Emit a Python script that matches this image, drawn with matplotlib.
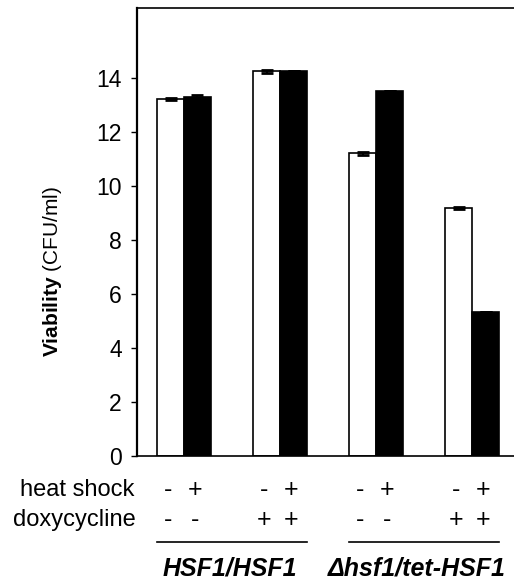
import matplotlib
matplotlib.use("Agg")
import matplotlib.pyplot as plt
import matplotlib.transforms as mtransforms
import numpy as np

plt.rcParams['font.family'] = ['Liberation Sans', 'DejaVu Sans']
plt.rcParams['mathtext.fontset'] = 'custom'
plt.rcParams['mathtext.rm'] = 'Liberation Sans'
plt.rcParams['mathtext.bf'] = 'Liberation Sans:bold'

# Data
conditions = ["HSF1/HSF1 -dox", "HSF1/HSF1 +dox", "tet -dox", "tet +dox"]
no_heat = [13.22, 14.26, 11.22, 9.19]
no_heat_err = [0.04, 0.05, 0.05, 0.04]
heat = [13.32, 14.26, 13.53, 5.33]
heat_err = [0.04, 0.0, 0.0, 0.0]
heat_signs = [["-", "+"], ["-", "+"], ["-", "+"], ["-", "+"]]
dox_signs = [["-", "-"], ["+", "+"], ["-", "-"], ["+", "+"]]
strains = ["HSF1/HSF1", "\u0394hsf1/tet-HSF1"]
yticks = [0, 2, 4, 6, 8, 10, 12, 14]

fig = plt.figure(figsize=(5.14, 5.8), dpi=100)
H = 580.0
ax = fig.add_axes([137/514, 1 - 456/H, 0.764, (456 - 8)/H])

x = np.arange(len(conditions))
w = 0.28
ax.bar(x - w/2, no_heat, w, color='white', edgecolor='black', linewidth=1.2,
       yerr=no_heat_err, capsize=4, error_kw=dict(elinewidth=1.5, capthick=2.0))
ax.bar(x + w/2, heat, w, color='black', edgecolor='black', linewidth=1.2,
       yerr=heat_err, capsize=4, error_kw=dict(elinewidth=1.5, capthick=2.0))

ax.set_xlim(-0.49, 3.6)
ax.set_ylim(0, 16.6)
ax.set_yticks(yticks)
ax.set_yticklabels([str(t) for t in yticks], fontsize=16.5)
ax.tick_params(axis='y', direction='out', length=4, width=1, pad=7)
ax.set_xticks([])
for s in ['top', 'bottom', 'left', 'right']:
    ax.spines[s].set_linewidth(1.2)
ax.spines['left'].set_linewidth(1.6)

ax.set_ylabel(r"$\mathbf{Viability}$ (CFU/ml)", fontsize=15)
ax.yaxis.set_label_coords((64 - 137) / (0.764 * 514), (456 - 271) / 448)

trans = mtransforms.blended_transform_factory(ax.transData, ax.transAxes)
row1_y = (456 - 490) / 448
row2_y = (456 - 520) / 448
line_y = (456 - 542) / 448
label_y = (456 - 576) / 448

fig.text(134/514, 1 - 490/H, "heat shock", ha='right', va='center', fontsize=17)
fig.text(136/514, 1 - 520/H, "doxycycline", ha='right', va='center', fontsize=17)

for i in range(len(conditions)):
    for j, off in enumerate([-w/2 - 0.03, w/2 - 0.03]):
        ax.text(x[i] + off, row1_y, heat_signs[i][j], transform=trans,
                ha='center', va='center', fontsize=18, clip_on=False)
        ax.text(x[i] + off, row2_y, dox_signs[i][j], transform=trans,
                ha='center', va='center', fontsize=18, clip_on=False)

label_shift = [-0.02, -0.08]
for k, name in enumerate(strains):
    a, b = 2*k, 2*k + 1
    left = x[a] - w
    right = x[b] + w
    ax.plot([left, right], [line_y, line_y], transform=trans, color='black',
            linewidth=1.2, clip_on=False)
    ax.text((left + right) / 2 + label_shift[k], label_y, name, transform=trans,
            ha='center', va='baseline', fontsize=18, fontweight='bold',
            fontstyle='italic', clip_on=False)

fig.savefig("out.png", dpi=100)
